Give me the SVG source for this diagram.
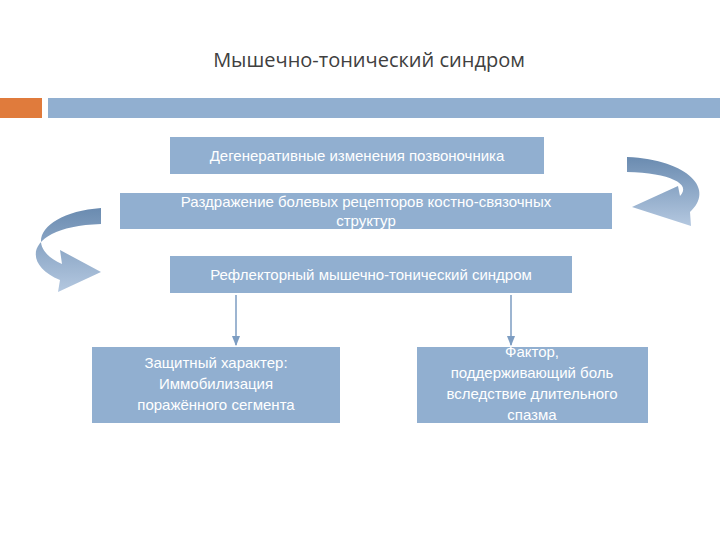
<svg xmlns="http://www.w3.org/2000/svg" width="720" height="540" viewBox="0 0 720 540">
<style>
.box{fill:#91afd0}
.t{font-family:"Liberation Sans",Arial,sans-serif;font-size:15px;fill:#fff;text-anchor:middle}
.ln{stroke:#7d9dc2;stroke-width:1.5;fill:none}
</style>
<defs>
<marker id="ah" viewBox="0 0 10 10" refX="9" refY="5" markerWidth="7" markerHeight="7" orient="auto"><path d="M0,1 L10,5 L0,9 Z" fill="#7d9dc2"/></marker>
<linearGradient id="g" x1="0" y1="0" x2="0" y2="1"><stop offset="0" stop-color="#6a8bb0"/><stop offset="1" stop-color="#b4c8e0"/></linearGradient>
</defs>
<rect width="720" height="540" fill="#fff"/>
<text x="369" y="67" font-family="'Open Sans','DejaVu Sans',sans-serif" font-size="20" fill="#404040" text-anchor="middle">Мышечно-тонический синдром</text>
<rect x="0" y="98" width="42" height="20" fill="#e07b3c"/>
<rect x="48" y="98" width="672" height="20" fill="#91afd0"/>
<g id="n1"><rect class="box" x="170" y="137" width="374" height="37"/><text class="t" x="357" y="161">Дегенеративные изменения позвоночника</text></g>
<g id="n2"><rect class="box" x="120" y="193" width="492" height="36"/><text class="t" x="366" y="207">Раздражение болевых рецепторов костно-связочных</text><text class="t" x="366" y="226">структур</text></g>
<g id="n3"><rect class="box" x="170" y="256" width="402" height="37"/><text class="t" x="371" y="280">Рефлекторный мышечно-тонический синдром</text></g>
<g id="n4"><rect class="box" x="92" y="347" width="248" height="76"/><text class="t" x="216" y="368">Защитный характер:</text><text class="t" x="216" y="389">Иммобилизация</text><text class="t" x="216" y="410">поражённого сегмента</text></g>
<g id="n5"><rect class="box" x="417" y="347" width="231" height="76"/><text class="t" x="532" y="357">Фактор,</text><text class="t" x="532" y="378">поддерживающий боль</text><text class="t" x="532" y="399">вследствие длительного</text><text class="t" x="532" y="420">спазма</text></g>
<g id="connectors">
<line class="ln" x1="236" y1="295" x2="236" y2="345" marker-end="url(#ah)"/>
<line class="ln" x1="511" y1="295" x2="511" y2="345" marker-end="url(#ah)"/>
<path fill="url(#g)" d="M627,157 C690,160 715,190 690,212 L691,226 L632,207 L678,186 L680,196 C692,184 670,173 627,172 Z"/>
<path fill="url(#g)" d="M101,208 C45,212 20,245 62,264 L60,250 L101,272 L58,292 L60,280 C18,262 30,226 101,224 Z"/>
</g>
</svg>
